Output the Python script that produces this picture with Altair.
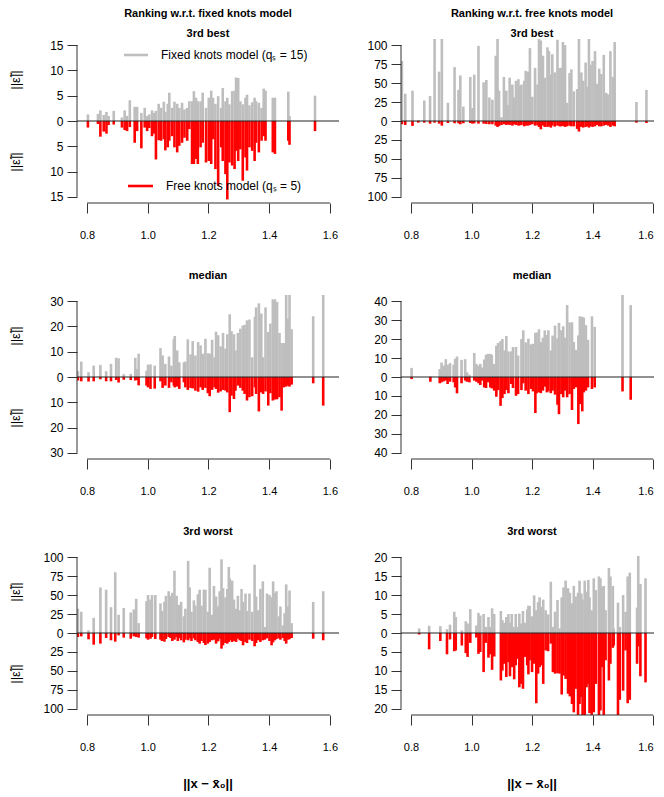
import altair as alt
import pandas as pd

FONT = "Liberation Sans"
GRAY = "#BEBEBE"
RED = "#FF0000"
AX = "#333333"

XTICKS = [0.8, 1.0, 1.2, 1.4, 1.6]

# ---------------- Ranking w.r.t. fixed knots model : 3rd best ----------------
fb_x = [0.803,0.836,0.844,0.855,0.864,0.871,0.888,0.915,0.924,0.932,
        0.941,0.957,0.965,0.979,0.990,0.998,1.005,1.014,1.020,1.027,
        1.036,1.044,1.053,1.058,1.066,1.071,1.080,1.088,1.097,1.104,
        1.113,1.121,1.130,1.137,1.146,1.152,1.159,1.165,1.174,1.181,
        1.192,1.201,1.209,1.215,1.223,1.232,1.242,1.247,1.256,1.262,
        1.269,1.278,1.286,1.291,1.298,1.305,1.313,1.322,1.327,1.335,
        1.344,1.352,1.357,1.366,1.375,1.382,1.388,1.412,1.419,1.463,
        1.467,1.551]
fb_fixed = [1.3,1.4,2.1,1.2,1.8,1.0,2.0,0.7,2.1,1.0,
            4.1,2.8,2.8,1.6,2.6,1.0,1.3,2.1,1.6,2.0,
            3.4,2.6,3.8,1.8,3.4,5.6,2.6,3.8,3.4,2.6,
            3.6,2.3,2.6,3.9,3.9,5.9,4.6,3.9,3.9,5.6,
            2.6,4.6,6.0,4.6,3.4,4.9,2.6,6.5,3.9,4.6,
            3.3,5.9,6.0,8.6,8.5,3.9,3.3,4.6,5.2,3.1,
            3.7,4.6,3.9,3.6,2.6,6.4,6.0,4.6,4.6,5.8,
            1.0,5.0]
fb_free = [1.3,0.6,3.1,2.1,2.5,0.8,0.7,1.3,1.8,2.0,
           1.2,4.3,2.0,5.4,1.3,2.0,1.4,3.0,2.5,7.6,
           3.8,3.9,3.6,5.8,5.2,3.9,3.0,5.2,6.2,4.9,
           4.3,3.3,3.9,1.6,8.5,8.5,7.5,8.5,5.2,4.3,
           8.2,7.9,8.5,3.6,9.5,12.8,5.2,7.9,10.5,15.5,
           8.2,8.8,9.5,5.9,7.9,5.6,11.8,7.2,9.8,5.2,
           5.9,7.9,4.3,6.2,3.9,3.0,3.9,6.2,6.5,3.9,
           4.7,2.0]

# ---------------- Ranking w.r.t. free knots model : 3rd best ----------------
rb_x = [0.770,0.781,0.805,0.824,0.844,0.863,0.878,0.893,0.902,0.922,
        0.944,0.957,0.963,0.973,0.996,1.003,1.009,1.023,1.040,1.049,
        1.059,1.069,1.080,1.086,1.091,1.099,1.107,1.115,1.121,1.126,
        1.135,1.141,1.147,1.155,1.160,1.165,1.174,1.179,1.187,1.193,
        1.201,1.210,1.218,1.223,1.229,1.236,1.242,1.251,1.256,1.262,
        1.267,1.275,1.284,1.291,1.297,1.302,1.309,1.316,1.324,1.330,
        1.338,1.349,1.355,1.363,1.369,1.377,1.382,1.388,1.393,1.400,
        1.408,1.415,1.422,1.429,1.437,1.445,1.452,1.459,1.467,1.473,
        1.545,1.578]
rb_fixed = [79,36,40,1,27,33,120,65,120,24,
            71,41,60,19,58,17,61,99,51,54,
            31,28,86,120,40,5,58,40,21,57,
            48,31,53,55,46,48,53,66,65,96,
            32,70,48,120,106,86,57,97,92,61,
            88,64,107,70,70,104,100,24,63,68,
            39,42,120,64,53,77,45,120,74,79,
            92,49,69,62,87,37,35,92,58,104,
            25,41]
rb_free = [4.3,5.2,6.5,2.2,2.2,3.5,2.2,3.5,6.1,2.6,
           3.0,3.0,4.3,3.0,2.6,3.5,3.0,3.5,3.5,3.9,
           4.3,4.3,6.1,7.8,6.5,5.2,4.3,5.2,4.3,5.2,
           6.1,4.3,5.2,6.1,5.7,5.2,7.0,6.1,6.1,5.2,
           4.3,6.1,5.7,7.8,10.9,6.1,7.8,7.8,7.0,8.7,
           6.1,7.4,6.1,7.0,7.0,6.5,7.8,7.0,6.1,7.0,
           7.0,10.4,13.9,7.8,8.7,7.8,7.0,8.7,7.0,7.8,
           7.0,5.2,7.0,7.0,6.1,5.2,6.1,7.8,6.1,7.0,
           2.2,2.6]

# ---------------- fixed knots ranking : median ----------------
fm_x = [0.770,0.781,0.805,0.822,0.844,0.863,0.879,0.896,0.904,0.921,
        0.944,0.959,0.965,0.970,0.996,1.001,1.009,1.023,1.042,1.049,
        1.058,1.070,1.078,1.086,1.089,1.097,1.104,1.119,1.124,1.132,
        1.141,1.148,1.157,1.166,1.174,1.181,1.190,1.198,1.204,1.212,
        1.220,1.225,1.232,1.240,1.248,1.256,1.262,1.270,1.276,1.284,
        1.289,1.297,1.305,1.313,1.319,1.327,1.335,1.344,1.353,1.357,
        1.366,1.374,1.380,1.388,1.397,1.404,1.412,1.419,1.426,1.434,
        1.441,1.448,1.456,1.463,1.467,1.474,1.545,1.578]
fm_fixed = [2.3,6.1,1.9,4.5,4.8,2.3,5.2,7.6,7.4,1.1,
            1.2,7.6,3.2,9.2,2.5,4.9,5.0,4.5,11.4,8.5,
            5.2,8.1,4.5,14.9,16.2,10.5,5.8,5.8,6.1,14.9,
            8.9,14.2,8.5,13.8,12.5,9.2,15.1,9.4,9.2,14.7,
            7.8,17.9,16.5,12.1,17.4,11.2,16.9,24.8,18.1,16.9,
            10.5,17.4,19.1,20.3,20.6,22.4,22.7,7.8,23.8,27.5,
            29.1,25.1,7.8,27.5,17.8,21.1,30.7,30.7,29.7,17.4,
            13.4,13.4,34,23.1,34,18.9,24.0,34]
fm_free = [1.4,1.7,1.8,1.7,0.9,1.7,1.7,1.2,2.2,1.1,
           1.2,1.4,1.2,3.3,3.4,4.1,4.7,4.6,1.7,4.3,
           3.4,4.3,2.1,3.4,4.1,3.8,4.7,2.1,4.1,5.1,
           4.3,4.5,5.4,5.8,4.1,5.1,4.3,6.4,7.6,5.1,
           4.1,4.7,6.2,5.7,5.1,5.4,6.1,13.9,7.4,8.7,
           5.4,3.4,4.3,5.4,6.7,9.3,8.0,7.6,4.1,6.7,
           13.6,6.1,6.7,5.7,11.3,6.4,9.3,8.9,8.8,8.0,
           13.3,4.1,3.8,3.4,3.8,3.0,2.5,11.3]

# ---------------- free knots ranking : median ----------------
rm_x = [0.802,0.864,0.895,0.901,0.908,0.915,0.921,0.929,0.941,0.946,
        0.952,0.967,0.979,0.985,0.993,1.009,1.016,1.023,1.029,1.034,
        1.042,1.048,1.054,1.062,1.067,1.075,1.082,1.088,1.096,1.102,
        1.109,1.115,1.122,1.131,1.137,1.147,1.154,1.165,1.171,1.179,
        1.188,1.196,1.203,1.211,1.215,1.223,1.229,1.236,1.242,1.249,
        1.254,1.262,1.268,1.276,1.284,1.289,1.297,1.303,1.309,1.316,
        1.324,1.332,1.338,1.346,1.353,1.358,1.366,1.371,1.378,1.385,
        1.398,1.407,1.499,1.526]
rm_fixed = [4.8,0.3,4.2,7.6,6.0,9.4,6.5,7.3,6.5,9.6,
            10.8,9.0,9.4,2.5,1.2,12.7,6.9,6.0,6.9,5.0,
            9.2,11.7,12.2,12.2,11.7,6.9,16.5,17.9,18.9,20.0,
            14.0,21.6,13.5,13.5,15.8,15.8,11.3,20.0,24.6,18.2,
            20.2,17.2,17.5,23.2,23.5,25.1,18.4,20.7,24.6,22.1,
            24.6,14.0,21.8,27.1,20.4,28.5,24.6,26.7,20.7,37.9,
            28.8,28.8,18.4,14.3,21.9,32.0,31.7,31.3,27.3,19.6,
            32.0,26.4,44,37.9]
rm_free = [1.1,2.5,3.3,2.8,2.3,1.9,3.7,2.5,2.8,5.5,
           8.6,3.3,1.9,2.5,2.8,1.9,2.5,3.3,4.2,1.9,
           5.5,5.8,2.8,5.5,6.0,7.2,10.4,6.9,15.2,11.1,
           9.0,6.9,8.6,3.7,5.8,9.9,9.0,6.9,3.3,7.2,
           9.0,6.3,7.6,19.0,8.6,8.1,8.5,7.2,5.1,8.1,
           7.6,8.5,7.2,9.3,14.6,19.6,9.0,10.7,7.2,10.7,
           9.0,17.4,6.3,5.5,24.8,14.3,18.1,8.1,7.2,5.5,
           6.3,5.5,7.6,12.0]

# ---------------- fixed knots ranking : 3rd worst ----------------
fw_x = [0.770,0.781,0.805,0.822,0.844,0.863,0.879,0.893,0.904,0.921,
        0.944,0.954,0.962,0.970,0.996,1.001,1.009,1.014,1.025,1.042,
        1.047,1.055,1.060,1.069,1.075,1.081,1.088,1.095,1.099,1.104,
        1.110,1.119,1.124,1.133,1.138,1.144,1.152,1.157,1.165,1.171,
        1.177,1.185,1.190,1.198,1.204,1.212,1.218,1.225,1.232,1.237,
        1.243,1.248,1.256,1.262,1.267,1.270,1.278,1.284,1.291,1.297,
        1.303,1.309,1.314,1.322,1.327,1.335,1.344,1.352,1.357,1.364,
        1.371,1.379,1.386,1.393,1.401,1.408,1.413,1.419,1.424,1.432,
        1.437,1.445,1.451,1.456,1.463,1.467,1.474,1.545,1.578]
fw_fixed = [32,28,3.5,20,60,57,34,80,24,33,
            27,31,45,13,42,50,44,50,50,39,
            29,41,49,55,49,53,82,49,37,37,
            41,22,32,95,60,28,43,36,51,57,
            36,57,57,28,86,24,62,48,35,55,
            97,59,47,58,87,72,69,44,32,49,
            30,58,41,52,29,52,28,90,48,30,
            58,68,8,52,50,47,68,53,55,22,
            35,10,26,64,35,56,13,41,55]
fw_free = [5.3,4.4,8.3,15.4,14.0,6.6,9.6,11.4,3.1,6.1,
           7.5,4.4,5.3,6.1,7.0,8.8,7.5,5.3,7.9,8.8,
           10.5,11.4,7.9,5.3,6.6,10.5,8.8,5.3,10.5,6.6,
           9.6,12.3,8.8,9.6,7.0,10.5,7.0,9.6,11.8,14.0,
           10.5,13.2,15.8,14.0,11.8,9.6,8.8,14.0,11.0,7.5,
           20.6,16.2,13.2,14.0,11.8,9.6,11.8,10.5,11.8,7.5,
           9.6,10.5,16.2,11.8,13.2,8.8,10.5,17.5,13.2,9.6,
           11.8,9.6,8.8,7.0,10.5,16.2,12.3,9.6,7.9,7.0,
           8.8,6.6,10.5,14.0,8.8,7.9,6.6,7.5,9.6]

# ---------------- free knots ranking : 3rd worst ----------------
rw_x = [0.827,0.860,0.897,0.919,0.929,0.943,0.948,0.968,0.981,0.987,
        0.996,1.016,1.023,1.029,1.040,1.047,1.056,1.062,1.068,1.075,
        1.097,1.102,1.108,1.115,1.122,1.127,1.133,1.141,1.146,1.152,
        1.158,1.163,1.170,1.177,1.184,1.188,1.192,1.200,1.207,1.214,
        1.220,1.225,1.231,1.237,1.245,1.253,1.262,1.269,1.276,1.284,
        1.291,1.298,1.304,1.311,1.319,1.325,1.332,1.338,1.344,1.352,
        1.357,1.363,1.367,1.374,1.380,1.386,1.390,1.397,1.404,1.411,
        1.421,1.426,1.432,1.437,1.443,1.454,1.459,1.467,1.470,1.484,
        1.490,1.501,1.509,1.516,1.523,1.547,1.551,1.558,1.575]
rw_fixed = [1.2,1.9,1.8,1.0,2.2,5.6,4.2,0.7,3.1,2.5,
            6.3,2.0,5.3,4.6,5.0,1.6,4.2,1.6,6.5,5.0,
            5.8,3.4,2.7,4.2,5.0,2.7,5.0,1.6,5.0,1.6,
            5.1,2.5,5.8,2.7,6.2,7.2,7.1,4.4,9.9,6.0,
            8.1,9.4,6.9,8.8,6.0,4.9,13.5,1.6,5.6,8.7,
            1.2,9.4,12.0,13.8,11.8,10.6,7.8,12.4,9.6,10.6,
            13.8,10.4,8.8,13.8,10.9,14.0,9.4,6.0,14.4,11.3,
            14.9,14.4,12.2,12.4,6.0,17.1,14.9,12.4,1.2,8.0,
            1.6,10.0,5.6,14.9,15.9,6.7,20.3,12.9,14.4]
rw_free = [0.4,4.3,2.1,5.6,1.7,4.8,4.6,3.3,5.3,6.3,
           2.6,1.2,5.5,5.0,10.3,2.6,6.5,5.6,9.7,6.2,
           12.5,9.9,8.1,11.6,7.7,11.4,9.0,12.2,8.5,6.8,
           14.3,13.4,14.7,6.3,8.5,10.9,7.2,10.3,8.1,18.5,
           10.7,9.0,8.5,13.4,4.6,4.8,2.8,10.3,10.7,10.6,
           10.7,16.2,11.2,12.1,16.0,16.7,18.7,20.9,14.7,23,
           18.7,16.9,23,23,14.3,13.4,21.1,23,20.9,13.4,
           23,20.4,9.0,23,7.2,12.5,8.1,3.9,3.3,23,
           17.6,15.2,4.6,18.5,17.6,8.1,3.5,11.4,13.0]

H = 164


def panel(x, fixed, free, tmax, step, title, col, row):
    W = 262 if col == 0 else 253
    xs = alt.Scale(domain=[0.767, 1.630 if col == 0 else 1.603], nice=False, zero=False)
    ys = alt.Scale(domain=[-1.08 * tmax, 1.08 * tmax], nice=False, zero=False)
    df = pd.DataFrame({"x": x, "fixed": fixed, "free": [-v for v in free], "zero": 0.0})
    xaxis = alt.Axis(values=XTICKS, format=".1f", title=None, domain=False, grid=False,
                     tickSize=10, tickColor=AX, labelPadding=16, labelFont=FONT,
                     labelFontSize=11, labelColor="#000")
    yaxis = alt.Axis(values=list(range(-tmax, tmax + 1, step)), labelExpr="abs(datum.value)",
                     title=None, domain=False, grid=False, tickSize=10, tickColor=AX,
                     labelPadding=4, labelFont=FONT, labelFontSize=12, labelColor="#000")
    base = alt.Chart(df)
    gray = base.mark_rule(color=GRAY, strokeWidth=2.6, clip=True).encode(
        x=alt.X("x:Q", scale=xs, axis=xaxis, title=None),
        y=alt.Y("fixed:Q", scale=ys, axis=yaxis, title=None),
        y2="zero:Q")
    red = base.mark_rule(color=RED, strokeWidth=2.6, clip=True).encode(
        x=alt.X("x:Q", scale=xs, axis=xaxis, title=None),
        y=alt.Y("free:Q", scale=ys, axis=yaxis, title=None),
        y2="zero:Q")
    one = alt.Chart(pd.DataFrame({"k": [0]}))
    zero = one.mark_rule(color="#222222", strokeWidth=1).encode(
        y=alt.Y(datum=0, scale=ys, axis=yaxis, title=None))
    xline = one.mark_rule(color=AX, strokeWidth=1).encode(
        x=alt.X(datum=0.8, scale=xs, axis=xaxis, title=None), x2=alt.X2(datum=1.6), y=alt.value(H))
    yline = one.mark_rule(color=AX, strokeWidth=1).encode(
        x=alt.value(0), y=alt.Y(datum=-tmax, scale=ys, axis=yaxis, title=None), y2=alt.Y2(datum=tmax))
    ttl = one.mark_text(text=title, font=FONT, fontSize=11, fontWeight="bold",
                        baseline="middle").encode(
        x=alt.value(131), y=alt.value(-5 if row == 0 else -19))
    layers = [gray, red, zero, xline, yline, ttl]
    if row == 0:
        head = "Ranking w.r.t. fixed knots model" if col == 0 else "Ranking w.r.t. free knots model"
        layers.append(one.mark_text(text=head, font=FONT, fontSize=11, fontWeight="bold",
                                    baseline="middle").encode(x=alt.value(131), y=alt.value(-25)))
    if col == 0:
        for yy in (H / 4, 3 * H / 4):
            layers.append(one.mark_text(text="||ε̃||", font=FONT, fontSize=13, angle=270,
                                        baseline="middle").encode(x=alt.value(-61), y=alt.value(yy)))
    if row == 2:
        layers.append(one.mark_text(text="||x − x̄₀||", font=FONT, fontSize=13, fontWeight="bold",
                                    baseline="middle").encode(x=alt.value(131), y=alt.value(H + 69)))
    if row == 0 and col == 0:
        layers.append(one.mark_rule(color=GRAY, strokeWidth=2.6).encode(
            x=alt.value(47), x2=alt.value(71), y=alt.value(16)))
        layers.append(one.mark_text(text="Fixed knots model (qₛ = 15)", font=FONT, fontSize=12,
                                    align="left", baseline="middle").encode(x=alt.value(84), y=alt.value(16)))
        layers.append(one.mark_rule(color=RED, strokeWidth=2.6).encode(
            x=alt.value(51), x2=alt.value(76), y=alt.value(147)))
        layers.append(one.mark_text(text="Free knots model (qₛ = 5)", font=FONT, fontSize=12,
                                    align="left", baseline="middle").encode(x=alt.value(89), y=alt.value(147)))
    return alt.layer(*layers).properties(width=W, height=H)


panels = [
    panel(fb_x, fb_fixed, fb_free, 15, 5, "3rd best", 0, 0),
    panel(rb_x, rb_fixed, rb_free, 100, 25, "3rd best", 1, 0),
    panel(fm_x, fm_fixed, fm_free, 30, 10, "median", 0, 1),
    panel(rm_x, rm_fixed, rm_free, 40, 10, "median", 1, 1),
    panel(fw_x, fw_fixed, fw_free, 100, 25, "3rd worst", 0, 2),
    panel(rw_x, rw_fixed, rw_free, 20, 5, "3rd worst", 1, 2),
]

chart = alt.concat(*panels, columns=2, spacing={"row": 92, "column": 62}, bounds="flush").properties(
    padding={"left": 2, "top": 0, "right": 0, "bottom": 0},
    background="white",
).configure_view(stroke=None)

chart.save("out.html", embed_options={"renderer": "svg", "actions": False})
